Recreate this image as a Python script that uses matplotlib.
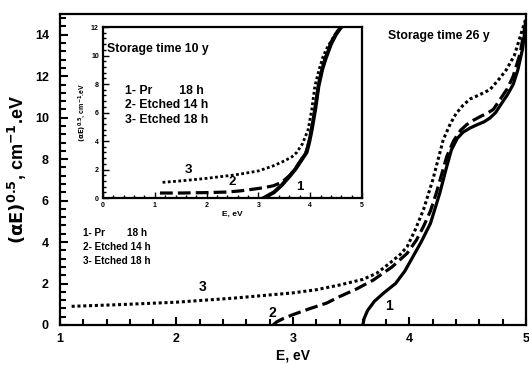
import matplotlib
matplotlib.use("Agg")
import matplotlib.pyplot as plt
from matplotlib.ticker import MultipleLocator

plt.rcParams['font.family'] = ['Liberation Sans', 'DejaVu Sans']
plt.rcParams['font.weight'] = 'bold'

# main chart: storage time 26 y
e_pr = [3.6, 3.61, 3.64, 3.7, 3.78, 3.88, 3.96, 4.03, 4.1, 4.18, 4.26, 4.32, 4.36, 4.41, 4.46, 4.52,
        4.58, 4.64, 4.69, 4.74, 4.78, 4.84, 4.89, 4.93, 4.97, 5.0]
y_pr = [0.0, 0.3, 0.7, 1.15, 1.55, 2.0, 2.6, 3.3, 4.0, 4.9, 6.36, 7.65, 8.45, 9.0, 9.3, 9.5,
        9.66, 9.8, 9.98, 10.25, 10.6, 11.1, 11.6, 12.3, 13.3, 14.6]

e_et14 = [2.83, 2.86, 2.92, 3.0, 3.15, 3.29, 3.4, 3.55, 3.69, 3.85, 3.98, 4.06, 4.12, 4.18, 4.23, 4.32,
          4.38, 4.44, 4.49, 4.55, 4.61, 4.67, 4.72, 4.78, 4.84, 4.89, 4.95, 5.0]
y_et14 = [0.0, 0.15, 0.32, 0.5, 0.8, 1.06, 1.37, 1.75, 2.17, 2.8, 3.46, 4.1, 4.75, 5.5, 6.36, 8.13,
          8.9, 9.4, 9.66, 9.88, 10.06, 10.22, 10.4, 10.9, 11.4, 12.0, 13.1, 14.7]

e_et18 = [1.1, 1.5, 2.0, 2.5, 2.8, 3.0, 3.2, 3.4, 3.6, 3.72, 3.83, 3.92, 3.98, 4.05, 4.12, 4.2, 4.29,
          4.35, 4.4, 4.46, 4.52, 4.6, 4.69, 4.76, 4.83, 4.9, 4.95, 5.0]
y_et18 = [0.9, 0.98, 1.1, 1.3, 1.45, 1.55, 1.7, 1.93, 2.2, 2.5, 2.98, 3.4, 3.78, 4.6, 5.56, 7.0, 8.94,
          9.7, 10.2, 10.6, 10.9, 11.1, 11.35, 11.8, 12.3, 13.0, 13.9, 14.8]

# inset: storage time 10 y
ie_pr = [3.1, 3.2, 3.3, 3.45, 3.61, 3.72, 3.82, 3.93, 3.98, 4.03, 4.1, 4.16, 4.23, 4.29, 4.35, 4.4, 4.5, 4.58]
iy_pr = [0.0, 0.2, 0.4, 0.9, 1.56, 2.05, 2.6, 3.2, 3.9, 4.8, 6.3, 7.85, 9.0, 9.7, 10.3, 10.8, 11.5, 11.9]

ie_et14 = [1.1, 1.5, 2.0, 2.4, 2.65, 2.9, 3.1, 3.29, 3.45, 3.61, 3.72, 3.82, 3.93, 3.98, 4.03, 4.1,
           4.16, 4.23, 4.29, 4.35, 4.4, 4.5, 4.6]
iy_et14 = [0.35, 0.35, 0.38, 0.42, 0.5, 0.62, 0.72, 0.86, 1.1, 1.6, 2.1, 2.65, 3.3, 4.0, 4.9, 6.4,
           7.9, 9.1, 9.8, 10.4, 10.9, 11.6, 12.0]

ie_et18 = [1.15, 1.5, 2.0, 2.5, 2.65, 3.0, 3.29, 3.5, 3.65, 3.74, 3.85, 3.96, 4.03, 4.09, 4.17, 4.25,
           4.32, 4.4, 4.5, 4.6]
iy_et18 = [1.1, 1.2, 1.38, 1.6, 1.68, 1.9, 2.26, 2.6, 2.9, 3.2, 3.8, 4.8, 6.2, 7.85, 9.0, 9.95,
           10.5, 11.0, 11.6, 12.0]

legend_lines = ["1- Pr        18 h", "2- Etched 14 h", "3- Etched 18 h"]
ylab = r"$\mathbf{(\alpha E)^{0.5}}$, cm$^{\mathbf{-1}}$.eV"

fig = plt.figure(figsize=(5.29, 3.65), dpi=100)
ax = fig.add_axes([0.1134, 0.1096, 0.8809, 0.852])

dash = (0, (4, 1.6))
dot = (0, (1, 0.9))
ax.plot(e_pr, y_pr, color='black', lw=2.3, solid_capstyle='round')
ax.plot(e_et14, y_et14, color='black', lw=2.3, linestyle=dash)
ax.plot(e_et18, y_et18, color='black', lw=2.2, linestyle=dot)

ax.set_xlim(1, 5)
ax.set_ylim(0, 15)
ax.xaxis.set_major_locator(MultipleLocator(1))
ax.xaxis.set_minor_locator(MultipleLocator(0.2))
ax.yaxis.set_major_locator(MultipleLocator(2))
ax.yaxis.set_minor_locator(MultipleLocator(0.4))
ax.tick_params(which='both', direction='in', width=1.5, labelsize=9)
ax.tick_params(which='major', length=6)
ax.tick_params(axis='x', which='major', pad=6)
ax.tick_params(axis='y', which='major', pad=8)
ax.tick_params(which='minor', length=4)
for s in ax.spines.values():
    s.set_linewidth(1.6)
for lbl in ax.get_xticklabels() + ax.get_yticklabels():
    lbl.set_fontweight('bold')

ax.set_xlabel("E, eV", fontsize=10, fontweight='bold', labelpad=2)
ax.set_ylabel(ylab, fontsize=13, fontweight='bold', labelpad=4)

ax.text(0.703, 0.92, "Storage time 26 y", transform=ax.transAxes, fontsize=8.8, fontweight='bold')
for i, t in enumerate(legend_lines):
    ax.text(1.2, 4.44 - i * 0.67, t, fontsize=7.2, fontweight='bold', va='center')
ax.text(2.22, 1.84, "3", fontsize=10, ha='center', va='center')
ax.text(2.82, 0.58, "2", fontsize=10, ha='center', va='center')
ax.text(3.82, 0.92, "1", fontsize=10, ha='center', va='center')

# inset
ins = fig.add_axes([0.1947, 0.4575, 0.4896, 0.4685])
ins.plot(ie_pr, iy_pr, color='black', lw=2.8)
ins.plot(ie_et14, iy_et14, color='black', lw=2.3, linestyle=dash)
ins.plot(ie_et18, iy_et18, color='black', lw=2.0, linestyle=dot)
ins.set_xlim(0, 5)
ins.set_ylim(0, 12)
ins.xaxis.set_major_locator(MultipleLocator(1))
ins.xaxis.set_minor_locator(MultipleLocator(0.2))
ins.yaxis.set_major_locator(MultipleLocator(2))
ins.yaxis.set_minor_locator(MultipleLocator(0.4))
ins.tick_params(which='both', direction='in', width=1.0, labelsize=5, pad=3)
ins.tick_params(which='major', length=4)
ins.tick_params(which='minor', length=2.5)
for s in ins.spines.values():
    s.set_linewidth(1.6)
for lbl in ins.get_xticklabels() + ins.get_yticklabels():
    lbl.set_fontweight('bold')
ins.set_xlabel("E, eV", fontsize=6, fontweight='bold', labelpad=1)
ins.set_ylabel(ylab, fontsize=5, fontweight='bold', labelpad=2)

ins.text(0.015, 0.855, "Storage time 10 y", transform=ins.transAxes, fontsize=8.8, fontweight='bold')
for i, t in enumerate(legend_lines):
    ins.text(0.42, 7.5 - i * 1.0, t, fontsize=8.8, fontweight='bold', va='center')
ins.text(1.64, 2.0, "3", fontsize=9.5, ha='center', va='center')
ins.text(2.5, 1.1, "2", fontsize=9.5, ha='center', va='center')
ins.text(3.8, 0.77, "1", fontsize=9.5, ha='center', va='center')

fig.savefig("out.png", dpi=100)
